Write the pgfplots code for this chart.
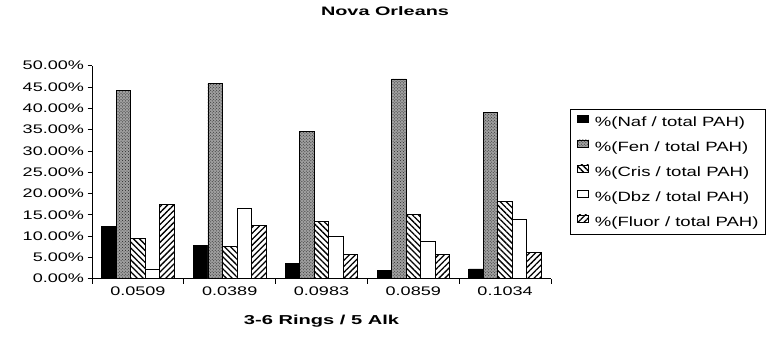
\documentclass[border=0pt]{standalone}
\usepackage{fontspec}
\setmainfont{Liberation Sans}
\newfontfamily\tickfont[FakeStretch=1.45]{Liberation Sans}
\newfontfamily\legfont[FakeStretch=1.38]{Liberation Sans}
\newfontfamily\titfont[FakeStretch=1.62]{Liberation Sans}
\newfontfamily\xlabfont[FakeStretch=1.55]{Liberation Sans}
\usepackage{pgfplots}
\usepackage{pgfplotstable}
\pgfplotsset{compat=1.18}
\usetikzlibrary{patterns,patterns.meta}
\pgfplotstableread{
x naf fen cris dbz fluor
0 12.2 44.1 9.4 2.3 17.5
1 7.9 45.8 7.5 16.5 12.5
2 3.6 34.6 13.4 9.9 5.7
3 2.0 46.9 15.0 8.8 5.7
4 2.3 39.0 18.1 14.0 6.1
}\datatable
\begin{document}
\begin{tikzpicture}
\begin{axis}[
  name=ax,
  scale only axis,
  width=459bp, height=213bp,
  xmin=-0.5, xmax=4.5, ymin=0, ymax=50,
  ybar=0pt, bar width=14.5bp,
  axis lines*=left,
  axis line style={line width=0.8bp},
  xtick={0,1,2,3,4},
  xticklabels={0.0509,0.0389,0.0983,0.0859,0.1034},
  major x tick style={draw=none},
  minor xtick={-0.5,0.5,1.5,2.5,3.5,4.5},
  minor x tick style={line width=0.8bp,black},
  minor tick length=5bp,
  major tick length=4.5bp,
  tick align=outside,
  ytick={0,5,...,50},
  y tick style={line width=0.8bp,black},
  yticklabel={\pgfmathprintnumber[fixed,fixed zerofill,precision=2]{\tick}\%},
  /pgf/number format/assume math mode=true,
  tick label style={font=\tickfont\fontsize{12.5}{14}\selectfont},
  title={Nova Orleans},
  title style={font=\titfont\bfseries\fontsize{12.3}{14}\selectfont, at={(0.5,1)}, anchor=base, yshift=44.7bp, xshift=63.5bp, inner sep=0pt},
  xlabel={3-6 Rings / 5 Alk},
  xlabel style={font=\xlabfont\bfseries\fontsize{13}{15}\selectfont, at={(0.5,0)}, anchor=base, yshift=-46bp, inner sep=0pt},
  legend image code/.code={\draw[#1,line width=0.8bp] (0bp,0bp) rectangle (11bp,7bp);},
  legend cell align=left,
  legend style={at={(1,1)}, anchor=north west, xshift=19bp, yshift=-43.3bp,
    draw=black, line width=0.8bp, inner xsep=6.7bp, inner ysep=5bp,
    row sep=10bp,
    /tikz/every odd column/.append style={column sep=6bp},
    font=\legfont\fontsize{13.5}{15}\selectfont,
    nodes={inner sep=0pt, text height=12bp, text depth=3bp}},
  every axis plot/.append style={draw=black, line width=0.8bp},
]
\addplot[fill=black] table[x=x,y=naf] {\datatable};
\addplot[fill=gray!75, postaction={pattern=crosshatch dots, pattern color=black!85}] table[x=x,y=fen] {\datatable};
\addplot[fill=white, postaction={pattern={Lines[angle=-45,distance=4.2bp,line width=1.3bp]}, pattern color=black}] table[x=x,y=cris] {\datatable};
\addplot[fill=white] table[x=x,y=dbz] {\datatable};
\addplot[fill=white, postaction={pattern={Lines[angle=45,distance=4.2bp,line width=1.3bp]}, pattern color=black}] table[x=x,y=fluor] {\datatable};
\legend{\%(Naf / total PAH),\%(Fen / total PAH),\%(Cris / total PAH),\%(Dbz / total PAH),\%(Fluor / total PAH)}
\end{axis}
\path ([shift={(-92bp,-58.3bp)}]ax.south west) rectangle ([shift={(219bp,65.7bp)}]ax.north east);
\end{tikzpicture}
\end{document}
